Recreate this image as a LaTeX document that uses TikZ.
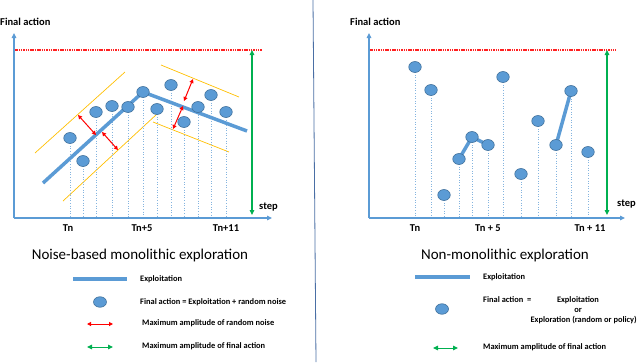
\documentclass[tikz,border=0pt]{standalone}
\usepackage{fontspec}
\setmainfont{Carlito}
\usetikzlibrary{arrows.meta,shapes.geometric}
\definecolor{bl}{HTML}{5B9BD5}
\definecolor{bldk}{HTML}{41719C}
\definecolor{orng}{HTML}{FFC000}
\definecolor{grn}{HTML}{00B050}
\definecolor{divc}{HTML}{4A6FA5}
\definecolor{lim}{HTML}{FF2020}
\tikzset{
  dot/.style={ellipse, draw=bldk, fill=bl, minimum width=12.5pt, minimum height=11pt, inner sep=0pt, line width=0.6pt},
  expl/.style={draw=bl, line width=3.5pt},
  axisline/.style={draw=bl, line width=1.2pt, -{Triangle[length=5pt,width=4.5pt]}},
  drop/.style={draw=bl!75, dotted, line width=0.6pt},
  band/.style={draw=orng, line width=0.7pt},
  noise/.style={draw=red, line width=1pt, {Triangle[length=4pt,width=4pt]}-{Triangle[length=4pt,width=4pt]}},
  amp/.style={draw=grn, line width=1.1pt, {Triangle[length=5pt,width=4.5pt]}-{Triangle[length=5pt,width=4.5pt]}},
  limit/.style={draw=lim, dash pattern=on 1.5pt off 0.8pt, line width=1.1pt},
  lbl/.style={font=\bfseries\fontsize{10.5}{12}\selectfont, inner sep=0pt},
  ttl/.style={font=\fontsize{15}{18}\selectfont, inner sep=0pt},
  leg/.style={font=\bfseries\fontsize{8.4}{10}\selectfont, inner sep=0pt, anchor=west},
}
\begin{document}
\begin{tikzpicture}[x=1pt,y=-1pt]
\useasboundingbox[fill=white] (0,0) rectangle (640,362);

% divider
\coordinate (dv1) at (313,0);
\coordinate (dv2) at (316,362);
\draw[divc, line width=0.8pt] (dv1) -- (dv2);

%================ LEFT PANEL ================
\coordinate (o1) at (14,218);
\coordinate (yt1) at (14,33);
\coordinate (xe1) at (272,218);
\node[lbl, anchor=west] (fa1) at (0,22) {Final action};
\node[lbl, anchor=west] (st1) at (259,207) {step};
\coordinate (r1a) at (14,50);
\coordinate (r1b) at (262,50);
\draw[limit] (r1a) -- (r1b);

% orange bands
\coordinate (b1a) at (35,153); \coordinate (b1b) at (125,72);
\coordinate (b2a) at (63,201); \coordinate (b2b) at (157,114);
\coordinate (b3a) at (161,65); \coordinate (b3b) at (239,97);
\coordinate (b4a) at (153,122); \coordinate (b4b) at (229,152);
\draw[band] (b1a) -- (b1b);
\draw[band] (b2a) -- (b2b);
\draw[band] (b3a) -- (b3b);
\draw[band] (b4a) -- (b4b);

% dot positions
\coordinate (p1) at (70,138);
\coordinate (p2) at (83,161);
\coordinate (p3) at (96,112);
\coordinate (p4) at (112,106);
\coordinate (p5) at (128,107);
\coordinate (p6) at (143,92);
\coordinate (p7) at (157,109);
\coordinate (p8) at (171,85);
\coordinate (p9) at (184,122);
\coordinate (p10) at (198,107);
\coordinate (p11) at (211,95);
\coordinate (p12) at (226,112);
\foreach \i in {1,...,12} {\draw[drop] (p\i) -- (p\i |- o1);}

% exploitation line
\coordinate (e1a) at (43,183);
\coordinate (e1c) at (247,131);
\draw[expl] (e1a) -- (p6) -- (e1c);

% noise arrows
\coordinate (n1a) at (78,115); \coordinate (n1b) at (96,135);
\coordinate (n2a) at (102,132); \coordinate (n2b) at (118,150);
\coordinate (n3a) at (193,79); \coordinate (n3b) at (184,101);
\coordinate (n4a) at (183,106); \coordinate (n4b) at (173,129);
\draw[noise] (n1a) -- (n1b);
\draw[noise] (n2a) -- (n2b);
\draw[noise] (n3a) -- (n3b);
\draw[noise] (n4a) -- (n4b);

\foreach \i in {1,...,12} {\node[dot] (d\i) at (p\i) {};}

\draw[axisline] (o1) -- (yt1);
\draw[axisline] (o1) -- (xe1);
\coordinate (g1a) at (252,50);
\coordinate (g1b) at (252,215);
\draw[amp] (g1a) -- (g1b);

\node[lbl] (t1a) at (68,228) {Tn};
\node[lbl] (t1b) at (142,228) {Tn+5};
\node[lbl] (t1c) at (226,228) {Tn+11};

\node[ttl] (title1) at (140,255) {Noise-based monolithic exploration};

% legend left
\coordinate (l1a) at (73,279); \coordinate (l1b) at (127,279);
\draw[expl] (l1a) -- (l1b);
\node[leg] (lt1) at (140,279) {Exploitation};
\node[dot, minimum width=13pt, minimum height=10.5pt] (ld1) at (100,302) {};
\node[leg] (lt2) at (140,302) {Final action = Exploitation + random noise};
\coordinate (l3a) at (87,324); \coordinate (l3b) at (113,324);
\draw[noise] (l3a) -- (l3b);
\node[leg] (lt3) at (142,323) {Maximum amplitude of random noise};
\coordinate (l4a) at (87,347); \coordinate (l4b) at (113,347);
\draw[amp, line width=1pt] (l4a) -- (l4b);
\node[leg] (lt4) at (142,346) {Maximum amplitude of final action};

%================ RIGHT PANEL ================
\coordinate (o2) at (369,218);
\coordinate (yt2) at (369,33);
\coordinate (xe2) at (625,218);
\node[lbl, anchor=west] (fa2) at (350,22) {Final action};
\node[lbl, anchor=west] (st2) at (617,204) {step};
\coordinate (r2a) at (369,50);
\coordinate (r2b) at (616,50);
\draw[limit] (r2a) -- (r2b);

\coordinate (q1) at (415,67);
\coordinate (q2) at (431,90);
\coordinate (q3) at (444,195);
\coordinate (q4) at (459,159);
\coordinate (q5) at (472,137);
\coordinate (q6) at (488,145);
\coordinate (q7) at (503,77);
\coordinate (q8) at (521,174);
\coordinate (q9) at (538,121);
\coordinate (q10) at (556,145);
\coordinate (q11) at (571,91);
\coordinate (q12) at (588,152);
\foreach \i in {1,...,12} {\draw[drop] (q\i) -- (q\i |- o2);}
\draw[expl] (q4) -- (q5) -- (q6);
\draw[expl] (q10) -- (q11);
\foreach \i in {1,...,12} {\node[dot] (f\i) at (q\i) {};}

\draw[axisline] (o2) -- (yt2);
\draw[axisline] (o2) -- (xe2);
\coordinate (g2a) at (607,50);
\coordinate (g2b) at (607,215);
\draw[amp] (g2a) -- (g2b);

\node[lbl] (t2a) at (415,228) {Tn};
\node[lbl] (t2b) at (488,228) {Tn + 5};
\node[lbl] (t2c) at (590,228) {Tn + 11};

\node[ttl] (title2) at (505,255) {Non-monolithic exploration};

% legend right
\coordinate (m1a) at (415,277); \coordinate (m1b) at (470,277);
\draw[expl] (m1a) -- (m1b);
\node[leg] (mt1) at (483,277) {Exploitation};
\node[dot, minimum width=13pt, minimum height=10.5pt] (md1) at (442,309) {};
\node[leg] (mt2) at (483,300) {Final action \ =};
\node[leg, anchor=center] (mt2b) at (578,300) {Exploitation};
\node[leg, anchor=center] (mt2c) at (578,310) {or};
\node[leg, anchor=east] (mt2d) at (637,320) {Exploration (random or policy)};
\coordinate (m4a) at (433,348); \coordinate (m4b) at (458,348);
\draw[amp, line width=1pt] (m4a) -- (m4b);
\node[leg] (mt4) at (483,347) {Maximum amplitude of final action};
\end{tikzpicture}
\end{document}
